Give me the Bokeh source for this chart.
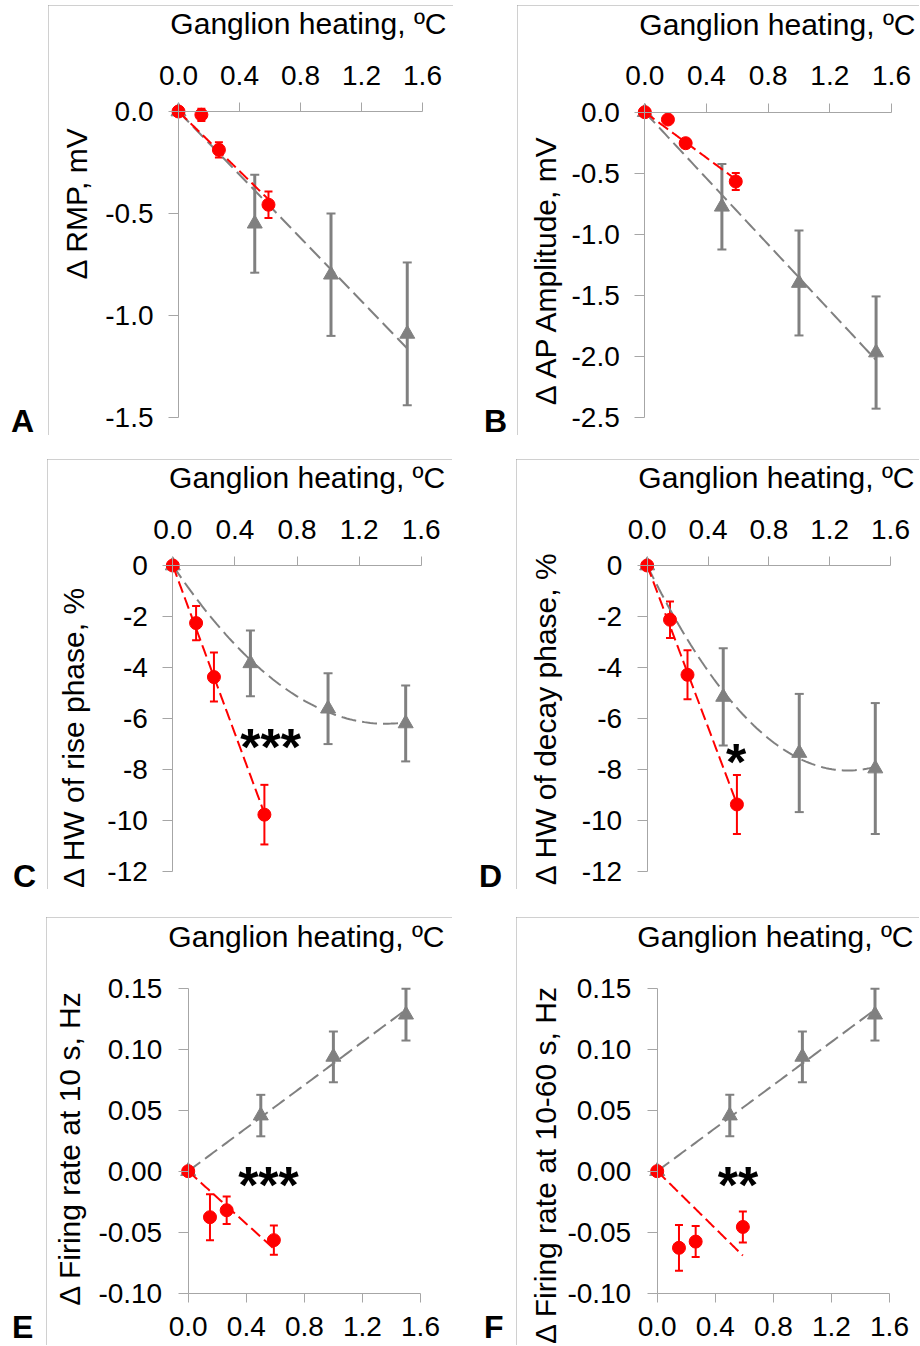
import numpy as np
from bokeh.plotting import figure
from bokeh.models import (Range1d, LinearAxis, FixedTicker, NumeralTickFormatter, Label,
                          ColumnDataSource, Whisker, TeeHead, Div, Spacer)
from bokeh.layouts import row, column
from bokeh.embed import file_html
from bokeh.resources import INLINE

# ---------------- data ----------------
heat_gray = [0.0, 0.5, 1.0, 1.5]
heat_red = [0.0, 0.15, 0.265, 0.59]
x_ticks = [0.0, 0.4, 0.8, 1.2, 1.6]
x_title = "Ganglion heating, ºC"

rmp_gray = [0.0, -0.55, -0.80, -1.09]
rmp_gray_err = [0.0, 0.24, 0.30, 0.35]
rmp_red = [0.0, -0.016, -0.188, -0.457]
rmp_red_err = [0.0, 0.03, 0.037, 0.065]
rmp_ticks = [0.0, -0.5, -1.0, -1.5]

amp_gray = [0.0, -0.775, -1.40, -1.97]
amp_gray_err = [0.0, 0.35, 0.43, 0.46]
amp_red = [0.0, -0.06, -0.254, -0.568]
amp_red_err = [0.0, 0.02, 0.035, 0.07]
amp_ticks = [0.0, -0.5, -1.0, -1.5, -2.0, -2.5]

rise_gray = [0.0, -3.84, -5.62, -6.20]
rise_gray_err = [0.0, 1.29, 1.39, 1.49]
rise_red = [0.0, -2.26, -4.38, -9.78]
rise_red_err = [0.0, 0.67, 0.96, 1.17]

decay_gray = [0.0, -5.16, -7.36, -7.97]
decay_gray_err = [0.0, 1.91, 2.32, 2.57]
decay_red = [0.0, -2.13, -4.29, -9.38]
decay_red_err = [0.0, 0.72, 0.96, 1.16]
hw_ticks = [0, -2, -4, -6, -8, -10, -12]

fr10_gray = [0.0, 0.0456, 0.0937, 0.1283]
fr10_gray_err = [0.0, 0.017, 0.0208, 0.0212]
fr10_red = [0.0, -0.0377, -0.032, -0.0565]
fr10_red_err = [0.0, 0.0189, 0.0112, 0.012]

fr60_gray = [0.0, 0.0456, 0.0937, 0.1283]
fr60_gray_err = [0.0, 0.017, 0.0208, 0.0212]
fr60_red = [0.0, -0.0628, -0.0577, -0.0457]
fr60_red_err = [0.0, 0.0187, 0.0127, 0.0127]
fr_ticks = [0.15, 0.10, 0.05, 0.0, -0.05, -0.10]

# ---------------- styling ----------------
FONT = "Liberation Sans"
AXC = "#a6a6a6"
BOXC = "#a0a0a0"
RED = "#ff0000"
GRAY = "#808080"


def fit_curve(x, y, deg):
    x = np.asarray(x, float)
    y = np.asarray(y, float)
    A = np.vstack([x ** k for k in range(1, deg + 1)]).T
    coef, *_ = np.linalg.lstsq(A, y, rcond=None)
    xs = np.linspace(0.0, x.max(), 80)
    ys = sum(c * xs ** (k + 1) for k, c in enumerate(coef))
    return xs, ys


def series(p, x, y, err, color, marker, size, deg, dash, ew, cap):
    xs, ys = fit_curve(x, y, deg)
    p.line(xs, ys, line_color=color, line_width=2, line_dash=dash)
    keep = [i for i in range(len(x)) if err[i] > 0]
    src = ColumnDataSource(dict(
        x=[x[i] for i in keep],
        lo=[y[i] - err[i] for i in keep],
        hi=[y[i] + err[i] for i in keep]))
    p.add_layout(Whisker(source=src, base="x", lower="lo", upper="hi", dimension="height",
                         line_color=color, line_width=ew,
                         lower_head=TeeHead(size=cap, line_color=color, line_width=2),
                         upper_head=TeeHead(size=cap, line_color=color, line_width=2)))
    p.scatter(x, y, marker=marker, size=size, fill_color=color, line_color=color)


def make_panel(cfg):
    cx, cy, w, h = cfg["canvas"]
    X0, X1, Y0, Y1 = cfg["px"]
    ytop, ybot = cfg["yr"]
    sx = (X1 - X0) / 1.6
    sy = (Y1 - Y0) / (ytop - ybot)
    xr = Range1d(-(X0 - cx) / sx, 1.6 + (cx + w - X1) / sx)
    yr = Range1d(ybot - (cy + h - Y1) / sy, ytop + (Y0 - cy) / sy)
    p = figure(width=w, height=h, output_backend="svg", toolbar_location=None,
               title_location=None, x_range=xr, y_range=yr,
               x_axis_location=None, y_axis_location=None,
               min_border=0, min_border_left=0, min_border_right=0,
               min_border_top=0, min_border_bottom=0,
               outline_line_color=None, background_fill_color="white",
               border_fill_color="white")
    p.xgrid.visible = False
    p.ygrid.visible = False
    st = {"outline": f"1px solid {BOXC}", "outline-offset": "-1px"}
    if cfg.get("clip"):
        st["clip-path"] = cfg["clip"]
    p.styles = st

    xloc = cfg["xside"]
    xa = LinearAxis(ticker=FixedTicker(ticks=x_ticks), formatter=NumeralTickFormatter(format="0.0"),
                    fixed_location=(0.0 if xloc == "above" else ybot), bounds=(0.0, 1.6))
    ya = LinearAxis(ticker=FixedTicker(ticks=cfg["yticks"]),
                    formatter=NumeralTickFormatter(format=cfg["yfmt"]),
                    fixed_location=0.0, bounds=(ybot, ytop))
    for ax, tout, so in ((xa, 9, cfg["xso"]), (ya, 10, cfg["yso"])):
        ax.axis_line_color = AXC
        ax.axis_line_width = 1
        ax.major_tick_line_color = AXC
        ax.major_tick_in = 0
        ax.major_tick_out = tout
        ax.minor_tick_line_color = None
        ax.major_label_text_font = FONT
        ax.major_label_text_font_size = "28px"
        ax.major_label_text_color = "#000000"
        ax.major_label_standoff = so
    p.add_layout(xa, xloc)
    p.add_layout(ya, "left")

    gx, gy, ge, gdeg = cfg["gray"]
    rx, ry, re_ = cfg["red"]
    series(p, gx, gy, ge, GRAY, "triangle", 15, gdeg, "15 6", 3, 9)
    series(p, rx, ry, re_, RED, "circle", 13, 1, "12 5", 2, 8)

    # heading (x title)
    p.add_layout(Label(x=1.6, y=(0.0 if xloc == "above" else ytop), x_offset=24,
                       y_offset=cfg["t_off"], text=x_title, text_align="right",
                       text_baseline="alphabetic", text_font=FONT, text_font_size="30px",
                       text_color="#000000"))
    # y title
    yx, yy = cfg["ylab_off"]
    p.add_layout(Label(x=0.0, y=0.0, x_offset=yx, y_offset=yy, text=cfg["ylabel"],
                       angle=np.pi / 2, text_align="center", text_baseline="alphabetic",
                       text_font=FONT, text_font_size="30px", text_color="#000000"))
    if cfg.get("sig"):
        s, sxv, syv = cfg["sig"]
        p.add_layout(Label(x=sxv, y=syv, text=s, text_align="center", text_baseline="alphabetic",
                           text_font=FONT, text_font_size="52px", text_font_style="bold",
                           text_color="#000000"))
    return p


def letter(ch, w, h, pt, pl):
    html = (f'<div style="font-family:\'{FONT}\',Arial,sans-serif;font-weight:bold;'
            f'font-size:32px;line-height:26px;padding-top:{pt}px;padding-left:{pl}px;'
            f'color:#000;margin:0">{ch}</div>')
    return Div(text=html, width=w, height=h, margin=0)


cfgs = {
    "A": dict(canvas=(48, 5, 405, 430), px=(178, 422, 111, 417), yr=(0.0, -1.5),
              xside="above", yticks=rmp_ticks, yfmt="0.0", xso=18, yso=15, t_off=88,
              ylabel="Δ RMP, mV", ylab_off=(-102, -91.5),
              gray=(heat_gray, rmp_gray, rmp_gray_err, 1), red=(heat_red, rmp_red, rmp_red_err)),
    "B": dict(canvas=(517, 5, 403, 430), px=(644.3, 891, 111.7, 416.7), yr=(0.0, -2.5),
              xside="above", yticks=amp_ticks, yfmt="0.0", xso=18, yso=15, t_off=88,
              ylabel="Δ  AP Amplitude, mV", ylab_off=(-99, -153), clip="inset(0 1px 0 0)",
              gray=(heat_gray, amp_gray, amp_gray_err, 1), red=(heat_red, amp_red, amp_red_err)),
    "C": dict(canvas=(47, 459, 405, 430), px=(172.3, 420.7, 565, 870.7), yr=(0.0, -12.0),
              xside="above", yticks=hw_ticks, yfmt="0", xso=18, yso=15, t_off=88,
              ylabel="Δ HW of rise phase,  %", ylab_off=(-99, -167.5),
              sig=("***", 0.63, -7.11),
              gray=(heat_gray, rise_gray, rise_gray_err, 2), red=(heat_red, rise_red, rise_red_err)),
    "D": dict(canvas=(516, 459, 404, 430), px=(646.7, 890, 565, 870.7), yr=(0.0, -12.0),
              xside="above", yticks=hw_ticks, yfmt="0", xso=18, yso=15, t_off=88,
              ylabel="Δ HW of decay phase, %", ylab_off=(-102, -153), clip="inset(0 1px 0 0)",
              sig=("*", 0.584, -7.70),
              gray=(heat_gray, decay_gray, decay_gray_err, 2), red=(heat_red, decay_red, decay_red_err)),
    "E": dict(canvas=(46, 917, 406, 429), px=(187.7, 420, 987.7, 1292.7), yr=(0.15, -0.10),
              xside="below", yticks=fr_ticks, yfmt="0.00", xso=15, yso=16, t_off=52,
              ylabel="Δ Firing rate at 10 s, Hz", ylab_off=(-119, 23), clip="inset(0 0 1px 0)",
              sig=("***", 0.553, -0.0113),
              gray=(heat_gray, fr10_gray, fr10_gray_err, 1), red=(heat_red, fr10_red, fr10_red_err)),
    "F": dict(canvas=(516, 917, 404, 429), px=(656.7, 889, 987.7, 1292.7), yr=(0.15, -0.10),
              xside="below", yticks=fr_ticks, yfmt="0.00", xso=15, yso=16, t_off=52,
              ylabel="Δ Firing rate at 10-60 s, Hz", ylab_off=(-112, 6.5), clip="inset(0 1px 1px 0)",
              sig=("**", 0.556, -0.0113),
              gray=(heat_gray, fr60_gray, fr60_gray_err, 1), red=(heat_red, fr60_red, fr60_red_err)),
}

P = {k: make_panel(v) for k, v in cfgs.items()}

r1 = row(letter("A", 48, 430, 403, 11), P["A"], letter("B", 64, 430, 403, 31), P["B"])
r2 = row(letter("C", 47, 430, 404, 13), P["C"], letter("D", 64, 430, 404, 27), P["D"])
r3 = row(letter("E", 46, 429, 397, 12), P["E"], letter("F", 64, 429, 397, 32), P["F"])
root = column(Spacer(width=920, height=5), r1, Spacer(width=920, height=24), r2,
              Spacer(width=920, height=28), r3)

open("out.html", "w").write(file_html(root, INLINE, title="Ganglion heating"))
